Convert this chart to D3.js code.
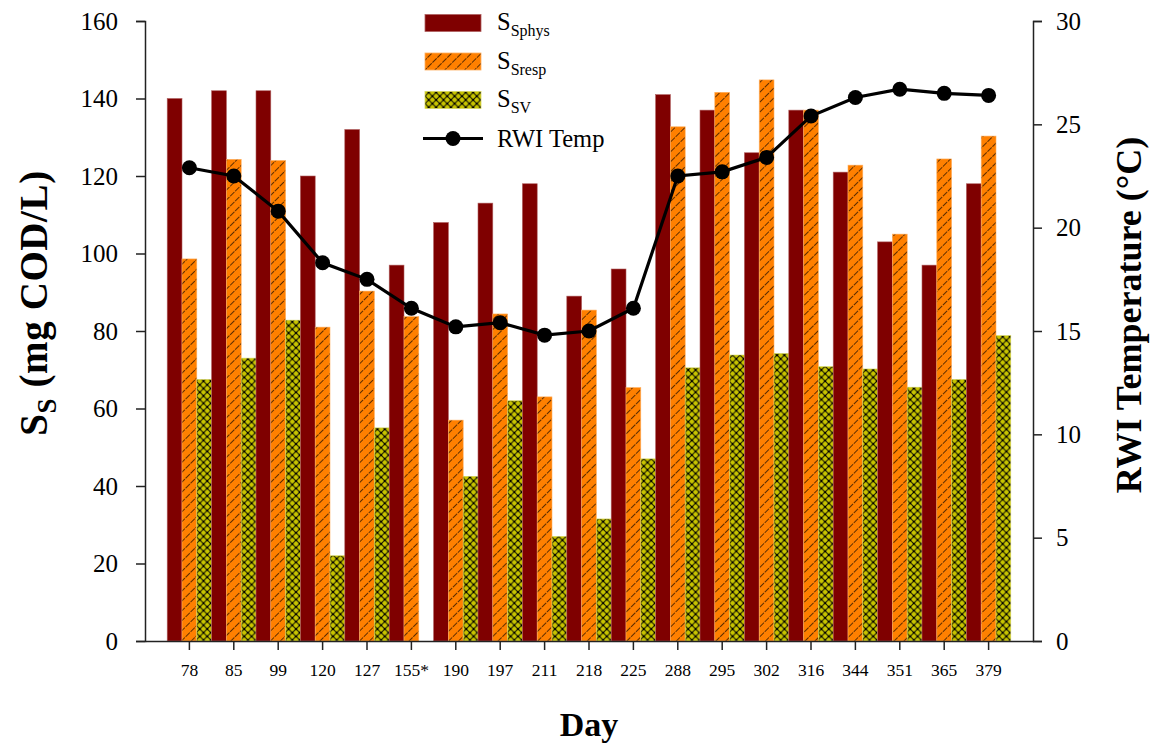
<!DOCTYPE html>
<html>
<head>
<meta charset="utf-8">
<script src="https://cdn.jsdelivr.net/npm/d3@7"></script>
<style>
  html, body { margin: 0; padding: 0; background: #fff; }
  svg { display: block; font-family: "Liberation Serif", "Times New Roman", serif; }
</style>
</head>
<body>
<svg id="chart" width="1151" height="744"></svg>
<script>
// Sampling days (155* has no S_SV measurement)
const days = ["78", "85", "99", "120", "127", "155*", "190", "197", "211", "218", "225",
              "288", "295", "302", "316", "344", "351", "365", "379"];

// Soluble COD fractions (mg COD/L)
const sPhys = [140, 142, 142, 120, 132, 97, 108, 113, 118, 89, 96, 141, 137, 126, 137, 121, 103, 97, 118];
const sResp = [98.6, 124.3, 124, 81, 90.3, 83.7, 57, 84.4, 63, 85.4, 65.4, 132.7, 141.6, 144.8, 137, 122.8, 105, 124.4, 130.3];
const sSV   = [67.5, 73, 82.8, 22, 55, null, 42.5, 62, 27, 31.5, 47, 70.5, 73.8, 74.2, 70.8, 70.2, 65.5, 67.5, 78.8];

// Raw wastewater influent temperature (°C)
const rwiTemp = [22.9, 22.5, 20.8, 18.3, 17.5, 16.1, 15.2, 15.4, 14.8, 15.0, 16.1, 22.5, 22.7, 23.4, 25.4, 26.3, 26.7, 26.5, 26.4];

const leftTicks = [0, 20, 40, 60, 80, 100, 120, 140, 160];
const rightTicks = [0, 5, 10, 15, 20, 25, 30];

const seriesKeys = ["phys", "resp", "sv"];
const seriesValues = { phys: sPhys, resp: sResp, sv: sSV };

const svg = d3.select("#chart");
const plot = { left: 145, right: 1033, top: 21, bottom: 641 };

// Pattern fills
const defs = svg.append("defs");
const hs = 7;
const hatch = defs.append("pattern")
  .attr("id", "hatch").attr("patternUnits", "userSpaceOnUse")
  .attr("width", hs).attr("height", hs)
  .attr("patternTransform", "rotate(45)");
hatch.append("rect").attr("width", hs).attr("height", hs).attr("fill", "#ff8000");
hatch.append("line").attr("x1", 0).attr("y1", 0).attr("x2", 0).attr("y2", hs)
  .attr("stroke", "#1a0a00").attr("stroke-width", 1.4).attr("stroke-dasharray", "4,1");

const cs = 7.4;
const cross = defs.append("pattern")
  .attr("id", "cross").attr("patternUnits", "userSpaceOnUse")
  .attr("width", cs).attr("height", cs);
cross.append("rect").attr("width", cs).attr("height", cs).attr("fill", "#c8c400");
cross.append("path").attr("d", `M0,0L${cs},${cs}M${cs},0L0,${cs}`)
  .attr("stroke", "#1a1a00").attr("stroke-width", 1.1).attr("fill", "none");
[[cs / 2, cs / 2], [0, 0], [cs, 0], [0, cs], [cs, cs]].forEach(([cx, cy]) =>
  cross.append("circle").attr("cx", cx).attr("cy", cy).attr("r", 1.2).attr("fill", "#000"));

const fills = { phys: "#7f0000", resp: "url(#hatch)", sv: "url(#cross)" };
const strokes = { phys: "#b06060", resp: "#ffb060", sv: "#d8d860" };

// Scales
const x = d3.scaleBand().domain(days).range([plot.left, plot.right])
  .paddingInner(0).paddingOuter(0.5);
const xs = d3.scaleBand().domain(seriesKeys).range([0, x.bandwidth()]).padding(0);
const yL = d3.scaleLinear().domain([0, 160]).range([plot.bottom, plot.top]);
const yR = d3.scaleLinear().domain([0, 30]).range([plot.bottom, plot.top]);

// Bars
const barData = [];
days.forEach((d, i) => seriesKeys.forEach(k => {
  const v = seriesValues[k][i];
  if (v != null) barData.push({ day: d, key: k, value: v });
}));
svg.append("g").selectAll("rect").data(barData).join("rect")
  .attr("x", d => x(d.day) + xs(d.key))
  .attr("width", xs.bandwidth())
  .attr("y", d => yL(d.value))
  .attr("height", d => yL(0) - yL(d.value))
  .attr("fill", d => fills[d.key])
  .attr("stroke", d => strokes[d.key])
  .attr("stroke-width", 0.6);

// Temperature line
const tempPts = days.map((d, i) => ({ day: d, t: rwiTemp[i] }));
svg.append("path").datum(tempPts)
  .attr("fill", "none").attr("stroke", "#000").attr("stroke-width", 3.2)
  .attr("d", d3.line().x(d => x(d.day) + x.bandwidth() / 2).y(d => yR(d.t)));
svg.append("g").selectAll("circle").data(tempPts).join("circle")
  .attr("cx", d => x(d.day) + x.bandwidth() / 2)
  .attr("cy", d => yR(d.t))
  .attr("r", 7.5).attr("fill", "#000");

// Axes
function styleAxis(g, size) {
  g.selectAll(".domain").attr("stroke", "#222").attr("stroke-width", 1.5);
  g.selectAll(".tick line").attr("stroke", "#222").attr("stroke-width", 1.5);
  g.selectAll(".tick text").attr("fill", "#000").style("font-family", "Liberation Serif, serif")
    .style("font-size", size + "px");
}
const gL = svg.append("g").attr("transform", `translate(${plot.left},0)`)
  .call(d3.axisLeft(yL).tickValues(leftTicks).tickSize(9).tickSizeOuter(9).tickPadding(18));
styleAxis(gL, 25);

const gR = svg.append("g").attr("transform", `translate(${plot.right},0)`)
  .call(d3.axisRight(yR).tickValues(rightTicks).tickSize(9).tickSizeOuter(9).tickPadding(14));
styleAxis(gR, 25);

const gB = svg.append("g").attr("transform", `translate(0,${plot.bottom})`)
  .call(d3.axisBottom(x).tickSize(9).tickSizeOuter(0).tickPadding(14));
styleAxis(gB, 17.5);

// Axis titles
svg.append("text")
  .attr("transform", "translate(47,303) rotate(-90)")
  .attr("text-anchor", "middle")
  .style("font-weight", "bold").style("font-size", "39px")
  .style("letter-spacing", "0.6px")
  .call(t => {
    t.append("tspan").text("S");
    t.append("tspan").attr("dy", 9).style("font-size", "27px").text("S");
    t.append("tspan").attr("dy", -9).text(" (mg COD/L)");
  });

svg.append("text")
  .attr("transform", "translate(1141,315) rotate(-90)")
  .attr("text-anchor", "middle")
  .style("font-weight", "bold").style("font-size", "36px")
  .text("RWI Temperature (°C)");

svg.append("text")
  .attr("x", 589).attr("y", 736)
  .attr("text-anchor", "middle")
  .style("font-weight", "bold").style("font-size", "34px")
  .text("Day");

// Legend
const legendItems = [
  { key: "phys", sub: "Sphys" },
  { key: "resp", sub: "Sresp" },
  { key: "sv", sub: "SV" },
  { key: "temp", label: "RWI Temp" }
];
const lg = svg.append("g").attr("transform", "translate(425,0)");
legendItems.forEach((it, i) => {
  const cy = 23 + i * 38.5;
  if (it.key === "temp") {
    lg.append("line").attr("x1", -2).attr("x2", 58).attr("y1", cy).attr("y2", cy)
      .attr("stroke", "#000").attr("stroke-width", 3);
    lg.append("circle").attr("cx", 28).attr("cy", cy).attr("r", 7.5).attr("fill", "#000");
    lg.append("text").attr("x", 72).attr("y", cy + 8).style("font-size", "24.5px").text(it.label);
  } else {
    lg.append("rect").attr("x", 0).attr("y", cy - 8.5).attr("width", 56).attr("height", 17)
      .attr("fill", fills[it.key]).attr("stroke", strokes[it.key]).attr("stroke-width", 0.8);
    const t = lg.append("text").attr("x", 72).attr("y", cy + 7).style("font-size", "24.5px");
    t.append("tspan").text("S");
    t.append("tspan").attr("dy", 6).style("font-size", "16px").text(it.sub);
  }
});
</script>
</body>
</html>
